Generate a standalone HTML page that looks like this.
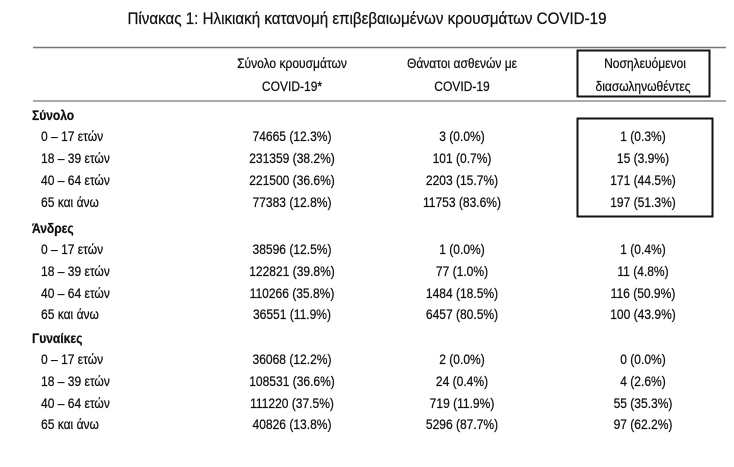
<!DOCTYPE html>
<html><head><meta charset="utf-8"><style>
body{margin:0;background:#fff;}
svg{display:block;font-family:"Liberation Sans","DejaVu Sans",sans-serif;}
</style></head><body>
<svg width="734" height="467" xmlns="http://www.w3.org/2000/svg">
<rect width="734" height="467" fill="#fff"/>
<g fill="#111" stroke="#111" stroke-width="0.25">
<text x="367" y="24" font-size="17" text-anchor="middle" textLength="479" lengthAdjust="spacingAndGlyphs">Πίνακας 1: Ηλικιακή κατανομή επιβεβαιωμένων κρουσμάτων COVID-19</text>
<g font-size="14" text-anchor="middle">
<g transform="translate(292,0) scale(0.86,1)"><text x="0" y="68">Σύνολο κρουσμάτων</text><text x="0" y="91">COVID-19*</text></g>
<g transform="translate(462,0) scale(0.86,1)"><text x="0" y="68">Θάνατοι ασθενών με</text><text x="0" y="91">COVID-19</text></g>
<g transform="translate(645,0) scale(0.86,1)"><text x="0" y="68">Νοσηλευόμενοι</text></g>
<g transform="translate(643,0) scale(0.86,1)"><text x="0" y="91">διασωληνωθέντες</text></g>
</g>
<g font-size="14" font-weight="bold" transform="translate(32,0) scale(0.86,1)">
<text x="0" y="120">Σύνολο</text>
<text x="0" y="233">Άνδρες</text>
<text x="0" y="343">Γυναίκες</text>
</g>
<g font-size="14" transform="translate(41,0) scale(0.86,1)">
<text x="0" y="141">0 – 17 ετών</text>
<text x="0" y="163">18 – 39 ετών</text>
<text x="0" y="185">40 – 64 ετών</text>
<text x="0" y="207">65 και άνω</text>
<text x="0" y="254">0 – 17 ετών</text>
<text x="0" y="276">18 – 39 ετών</text>
<text x="0" y="298">40 – 64 ετών</text>
<text x="0" y="319">65 και άνω</text>
<text x="0" y="364">0 – 17 ετών</text>
<text x="0" y="386">18 – 39 ετών</text>
<text x="0" y="408">40 – 64 ετών</text>
<text x="0" y="429">65 και άνω</text>
</g>
<g font-size="14" text-anchor="middle" transform="translate(292,0) scale(0.86,1)">
<text x="0" y="141">74665 (12.3%)</text>
<text x="0" y="163">231359 (38.2%)</text>
<text x="0" y="185">221500 (36.6%)</text>
<text x="0" y="207">77383 (12.8%)</text>
<text x="0" y="254">38596 (12.5%)</text>
<text x="0" y="276">122821 (39.8%)</text>
<text x="0" y="298">110266 (35.8%)</text>
<text x="0" y="319">36551 (11.9%)</text>
<text x="0" y="364">36068 (12.2%)</text>
<text x="0" y="386">108531 (36.6%)</text>
<text x="0" y="408">111220 (37.5%)</text>
<text x="0" y="429">40826 (13.8%)</text>
</g>
<g font-size="14" text-anchor="middle" transform="translate(462,0) scale(0.86,1)">
<text x="0" y="141">3 (0.0%)</text>
<text x="0" y="163">101 (0.7%)</text>
<text x="0" y="185">2203 (15.7%)</text>
<text x="0" y="207">11753 (83.6%)</text>
<text x="0" y="254">1 (0.0%)</text>
<text x="0" y="276">77 (1.0%)</text>
<text x="0" y="298">1484 (18.5%)</text>
<text x="0" y="319">6457 (80.5%)</text>
<text x="0" y="364">2 (0.0%)</text>
<text x="0" y="386">24 (0.4%)</text>
<text x="0" y="408">719 (11.9%)</text>
<text x="0" y="429">5296 (87.7%)</text>
</g>
<g font-size="14" text-anchor="middle" transform="translate(643,0) scale(0.86,1)">
<text x="0" y="141">1 (0.3%)</text>
<text x="0" y="163">15 (3.9%)</text>
<text x="0" y="185">171 (44.5%)</text>
<text x="0" y="207">197 (51.3%)</text>
<text x="0" y="254">1 (0.4%)</text>
<text x="0" y="276">11 (4.8%)</text>
<text x="0" y="298">116 (50.9%)</text>
<text x="0" y="319">100 (43.9%)</text>
<text x="0" y="364">0 (0.0%)</text>
<text x="0" y="386">4 (2.6%)</text>
<text x="0" y="408">55 (35.3%)</text>
<text x="0" y="429">97 (62.2%)</text>
</g>
</g>
<line x1="33" y1="47.5" x2="726" y2="47.5" stroke="#777" stroke-width="1.5"/>
<line x1="33" y1="101" x2="726" y2="101" stroke="#777" stroke-width="1.3"/>
<rect x="577.5" y="50.5" width="132" height="46" fill="none" stroke="#111" stroke-width="2"/>
<rect x="577.5" y="118.5" width="135" height="98" fill="none" stroke="#111" stroke-width="2"/>
</svg>
</body></html>
